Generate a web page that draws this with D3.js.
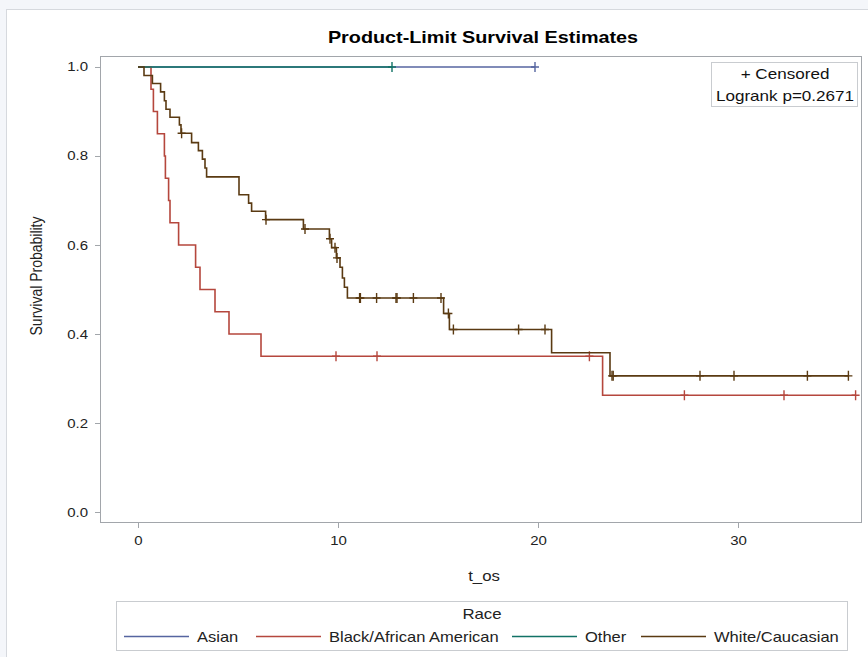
<!DOCTYPE html>
<html><head><meta charset="utf-8">
<script src="https://cdn.jsdelivr.net/npm/d3@7"></script>
<style>
html,body{margin:0;padding:0;background:#f4f6fa;}
svg{display:block;font-family:"Liberation Sans",Arial,sans-serif;}
</style></head>
<body><svg id="c" width="868" height="657"></svg>
<script>
// ---- data ----
const races = ["Asian", "Black/African American", "Other", "White/Caucasian"];
const colors = ["#5665a0", "#b5473d", "#117266", "#5a3a12"];

const asianTimes = [0];
const asianSurv = [1.0];
const asianCensor = [19.85];

const blackTimes = [0, 0.65, 0.77, 0.97, 1.32, 1.37, 1.53, 1.6, 2.03, 2.88, 3.1, 3.85, 4.55, 6.15, 23.23];
const blackSurv = [1.0, 0.95, 0.90, 0.85, 0.80, 0.75, 0.70, 0.65, 0.60, 0.55, 0.50, 0.45, 0.40, 0.35, 0.2625];
const blackCensor = [9.9, 11.95, 22.57, 27.32, 32.3, 35.88];

const otherTimes = [0];
const otherSurv = [1.0];
const otherCensor = [12.7];

const whiteTimes = [0, 0.3, 0.72, 1.13, 1.32, 1.4, 1.6, 2.07, 2.15, 2.68, 3.02, 3.22, 3.35, 3.43, 5.05, 5.53, 5.68, 6.38, 8.27, 9.57, 9.68, 9.92, 10.1, 10.22, 10.32, 10.47, 15.28, 15.57, 20.68, 23.6];
const whiteSurv = [1.0, 0.981, 0.963, 0.944, 0.924, 0.905, 0.887, 0.870, 0.851, 0.830, 0.812, 0.793, 0.773, 0.753, 0.713, 0.694, 0.676, 0.657, 0.636, 0.614, 0.594, 0.571, 0.550, 0.526, 0.505, 0.481, 0.446, 0.410, 0.358, 0.306];
const whiteCensor = [2.18, 6.4, 8.35, 9.6, 9.85, 9.95, 11.08, 11.12, 11.93, 12.9, 12.95, 13.77, 15.15, 15.52, 15.77, 19.03, 20.35, 23.7, 23.76, 28.1, 29.8, 33.47, 35.52];

const xTicks = [0, 10, 20, 30];
const yTicks = [0.0, 0.2, 0.4, 0.6, 0.8, 1.0];
const titleText = "Product-Limit Survival Estimates";
const xLabel = "t_os";
const yLabel = "Survival Probability";
const legendTitle = "Race";
const insetLines = ["+ Censored", "Logrank p=0.2671"];

const groups = [
  {times: asianTimes, surv: asianSurv, censor: asianCensor},
  {times: blackTimes, surv: blackSurv, censor: blackCensor},
  {times: otherTimes, surv: otherSurv, censor: otherCensor},
  {times: whiteTimes, surv: whiteSurv, censor: whiteCensor}
];

// ---- layout ----
const SX = 1.2; // horizontal stretch of text in the reference
const svg = d3.select("#c");
const F = {l: 100, r: 862, t: 56, b: 523};

function hText(g, px, py, str, size, anchor, opts = {}) {
  return g.append("text")
    .attr("transform", `translate(${px},${py}) scale(${opts.sx || SX},1)`)
    .attr("text-anchor", anchor).attr("font-size", size)
    .attr("font-weight", opts.bold ? "bold" : "normal")
    .attr("fill", opts.fill || "#222").text(str);
}

// panel
svg.append("rect").attr("x", 6.5).attr("y", 9.5).attr("width", 880).attr("height", 680)
  .attr("fill", "#fff").attr("stroke", "#d6d9de");

const x = d3.scaleLinear().domain([-1.9, 36.2]).range([F.l, F.r]);
const y = d3.scaleLinear().domain([-0.0247, 1.0247]).range([F.b, F.t]);

// title
hText(svg, 483, 43, titleText, 16.5, "middle", {bold: true, fill: "#000", sx: 1.2});

// frame
svg.append("rect").attr("x", F.l + 0.5).attr("y", F.t + 0.5)
  .attr("width", F.r - F.l - 1).attr("height", F.b - F.t - 1)
  .attr("fill", "none").attr("stroke", "#a2a6ab");

// axes
const xAxis = svg.append("g").attr("transform", `translate(0,${F.b})`)
  .call(d3.axisBottom(x).tickValues(xTicks).tickSize(5).tickPadding(8).tickFormat(d3.format("d")));
const yAxis = svg.append("g").attr("transform", `translate(${F.l},0)`)
  .call(d3.axisLeft(y).tickValues(yTicks).tickSize(5).tickPadding(5).tickFormat(d3.format(".1f")));
[xAxis, yAxis].forEach(a => {
  a.select(".domain").remove();
  a.selectAll(".tick line").attr("stroke", "#a2a6ab");
  a.selectAll(".tick text").attr("font-size", 12.5).attr("fill", "#222")
    .attr("font-family", "'Liberation Sans',Arial,sans-serif")
    .attr("transform", `scale(${SX},1)`);
});

hText(svg, 484, 581, xLabel, 14, "middle");
svg.append("text").attr("transform", `translate(42,276) rotate(-90) scale(1,${SX})`).attr("text-anchor", "middle")
  .attr("font-size", 14).attr("fill", "#222").text(yLabel);

// curves
const line = d3.line().x(d => x(d[0])).y(d => y(d[1])).curve(d3.curveStepAfter);
const stepAt = (g, t) => {
  let v = g.surv[0];
  g.times.forEach((tt, i) => { if (tt <= t) v = g.surv[i]; });
  return v;
};
const plot = svg.append("g");
groups.forEach((g, gi) => {
  const pts = g.times.map((t, i) => [t, g.surv[i]]);
  const tEnd = Math.max(d3.max(g.times), d3.max(g.censor));
  pts.push([tEnd, g.surv[g.surv.length - 1]]);
  plot.append("path").attr("d", line(pts)).attr("fill", "none")
    .attr("stroke", colors[gi]).attr("stroke-width", 1.6);
  const cs = g.censor.map(t => [t, stepAt(g, t)]);
  plot.selectAll(null).data(cs).enter().append("path")
    .attr("d", d => {
      const cx = x(d[0]), cy = y(d[1]);
      return `M${cx - 4},${cy}H${cx + 4}M${cx},${cy - 5}V${cy + 5}`;
    })
    .attr("stroke", colors[gi]).attr("stroke-width", 1.4).attr("fill", "none");
});

// inset box
const ib = svg.append("g");
ib.append("rect").attr("x", 711.5).attr("y", 62.5).attr("width", 146).attr("height", 44)
  .attr("fill", "#fff").attr("stroke", "#c9ccd0");
insetLines.forEach((s, i) => {
  hText(ib, 785, 79 + i * 22, s, 14, "middle", {fill: "#111", sx: 1.22});
});

// legend
const lg = svg.append("g");
lg.append("rect").attr("x", 116.5).attr("y", 601.5).attr("width", 731).attr("height", 49)
  .attr("fill", "#fff").attr("stroke", "#c9ccd0");
hText(lg, 482, 619, legendTitle, 14, "middle");
const lineStarts = [124, 256, 512, 641];
races.forEach((r, i) => {
  lg.append("line").attr("x1", lineStarts[i]).attr("x2", lineStarts[i] + 65)
    .attr("y1", 636.5).attr("y2", 636.5).attr("stroke", colors[i]).attr("stroke-width", 1.6);
  hText(lg, lineStarts[i] + 73, 641.5, r, 14, "start", {sx: 1.18});
});
</script>
</body></html>
